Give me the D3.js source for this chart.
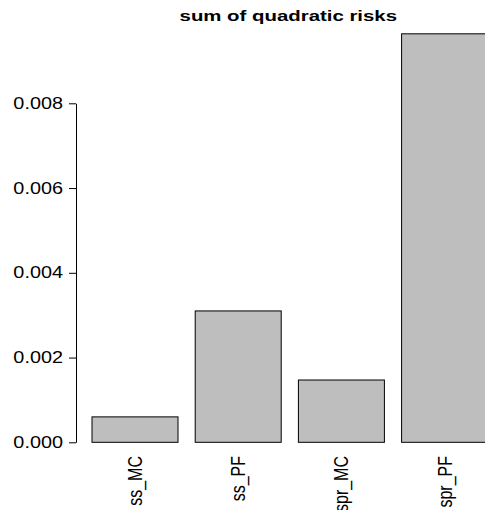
<!DOCTYPE html>
<html>
<head>
<meta charset="utf-8">
<script src="https://cdn.jsdelivr.net/npm/d3@7"></script>
<style>
  body { margin: 0; background: white; }
  text { font-family: "Liberation Sans", Arial, sans-serif; }
</style>
</head>
<body>
<div id="chart"></div>
<script>
const categories = ["ss_MC", "ss_PF", "spr_MC", "spr_PF"];
const risks = [0.0006, 0.0031, 0.00147, 0.00964];
const yTicks = [0, 0.002, 0.004, 0.006, 0.008];
const title = "sum of quadratic risks";

const width = 485, height = 510;

const svg = d3.select("#chart")
    .append("svg")
    .attr("width", width)
    .attr("height", height);

// R style barplot: space 0.2, bars flush to right end
let x = d3.scaleBand()
    .domain(categories)
    .range([74.8, 487.6])
    .paddingInner(0.2 / 1.2)
    .paddingOuter(1 / 12)
    .align(1);

let y = d3.scaleLinear()
    .domain([0, 0.008])
    .range([442.3, 103.3]);

// bars
svg.selectAll("rect.bar")
    .data(categories)
    .enter()
    .append("rect")
    .attr("class", "bar")
    .attr("x", d => x(d))
    .attr("y", (d, i) => y(risks[i]))
    .attr("width", x.bandwidth())
    .attr("height", (d, i) => y(0) - y(risks[i]))
    .style("fill", "#bebebe")
    .style("stroke", "black")
    .style("stroke-width", 1);

// y axis
const yAxis = svg.append("g")
    .attr("transform", "translate(76,0)")
    .call(d3.axisLeft(y).tickValues(yTicks).tickSize(7).tickSizeOuter(0).tickFormat(d3.format(".3f")));
yAxis.select(".domain").attr("stroke", "black").attr("stroke-width", 1);
yAxis.selectAll(".tick line").attr("stroke", "black");
yAxis.selectAll(".tick text").remove();

// tick labels, horizontally stretched like the R device output
svg.selectAll("text.ylab")
    .data(yTicks)
    .enter()
    .append("text")
    .attr("class", "ylab")
    .attr("transform", d => `translate(63,${y(d)}) scale(1.24,1)`)
    .attr("dy", "0.35em")
    .attr("text-anchor", "end")
    .style("font-size", "16px")
    .style("fill", "black")
    .text(d => d3.format(".3f")(d));

// category labels (las = 2)
svg.selectAll("text.xlab")
    .data(categories)
    .enter()
    .append("text")
    .attr("class", "xlab")
    .attr("transform", d => `translate(${x(d) + x.bandwidth() / 2},456) scale(1.24,1) rotate(-90)`)
    .attr("dy", "0.35em")
    .attr("text-anchor", "end")
    .style("font-size", "16px")
    .style("fill", "black")
    .text(d => d);

// title
svg.append("text")
    .attr("transform", "translate(288.3,21) scale(1.36,1)")
    .attr("text-anchor", "middle")
    .style("font-size", "15px")
    .style("font-weight", "bold")
    .style("fill", "black")
    .text(title);
</script>
</body>
</html>
